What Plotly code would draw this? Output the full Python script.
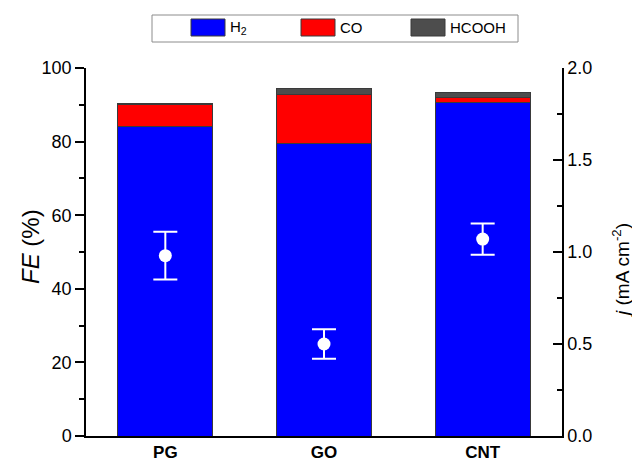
import plotly.graph_objects as go

categories = ["PG", "GO", "CNT"]
fe_h2 = [84.0, 79.4, 90.5]
fe_co = [6.0, 13.3, 1.5]
fe_hcooh = [0.3, 1.85, 1.4]
j_vals = [0.98, 0.50, 1.07]
j_err = [0.13, 0.08, 0.085]

series_names = ["H<sub>2</sub>", "CO", "HCOOH"]
series_colors = ["#0000FF", "#FF0000", "#4D4D4D"]

font_family = "Liberation Sans, Arial, sans-serif"
line_col = "#3a3a3a"

# The page body has an 8px default margin, so the figure is drawn 8px in.
OFF = 8
W, H = 640 - OFF, 462 - OFF
ML, MR, MT, MB = 78, 78, 60, 26
PW, PH = W - ML - MR, H - MT - MB


def px_x(p):
    return (p - OFF - ML) / PW


def px_y(p):
    return (H - MB - (p - OFF)) / PH


fig = go.Figure()
for vals, name, col in zip([fe_h2, fe_co, fe_hcooh], series_names, series_colors):
    fig.add_trace(go.Bar(x=categories, y=vals, name=name, width=0.6, showlegend=False,
                         marker=dict(color=col, line=dict(color=line_col, width=1))))
fig.add_trace(go.Scatter(x=categories, y=j_vals, yaxis="y2", mode="markers", showlegend=False,
                         marker=dict(color="white", size=13),
                         error_y=dict(type="data", array=j_err, color="white", thickness=2, width=12)))

# legend drawn as a box with swatches
shapes = [dict(type="rect", xref="paper", yref="paper",
               x0=px_x(152), x1=px_x(518), y0=px_y(42), y1=px_y(15),
               line=dict(color="#8c8c8c", width=1), fillcolor="white")]
annotations = []
sw_x = [191, 301, 411]
for sx, name, col in zip(sw_x, series_names, series_colors):
    shapes.append(dict(type="rect", xref="paper", yref="paper",
                       x0=px_x(sx), x1=px_x(sx + 34), y0=px_y(36), y1=px_y(19),
                       line=dict(color=line_col, width=1), fillcolor=col))
    annotations.append(dict(xref="paper", yref="paper", x=px_x(sx + 37), y=px_y(28),
                            text=name, showarrow=False, xanchor="left", yanchor="middle",
                            font=dict(size=15, family=font_family, color="black")))

# axis titles
annotations.append(dict(xref="paper", yref="paper", x=px_x(30), y=px_y(247),
                        text="<i>FE</i> (%)", showarrow=False, textangle=-90,
                        xanchor="center", yanchor="middle",
                        font=dict(size=24, family=font_family, color="black")))
annotations.append(dict(xref="paper", yref="paper", x=px_x(621), y=px_y(271),
                        text="<i>j</i> (mA cm<sup>-2</sup>)", showarrow=False, textangle=-90,
                        xanchor="center", yanchor="middle",
                        font=dict(size=19, family=font_family, color="black")))

fig.update_layout(
    width=W, height=H,
    margin=dict(l=ML, r=MR, t=MT, b=MB, autoexpand=False),
    barmode="stack",
    plot_bgcolor="white", paper_bgcolor="white",
    font=dict(family=font_family, color="black", size=18),
    showlegend=False,
    shapes=shapes,
    annotations=annotations,
    xaxis=dict(range=[-0.5, 2.5], showline=True, linecolor="black", linewidth=1.5,
               ticks="", tickfont=dict(size=17), automargin=False,
               tickprefix="<b>", ticksuffix="</b>"),
    yaxis=dict(range=[0, 100], dtick=20, showline=True, linecolor="black", linewidth=1.5,
               ticks="outside", ticklen=9, tickwidth=1.5, tickcolor="black",
               minor=dict(dtick=10, ticks="outside", ticklen=5, tickwidth=1.5, tickcolor="black"),
               showgrid=False, zeroline=False, automargin=False,
               tickfont=dict(size=18)),
    yaxis2=dict(range=[0, 2.0], dtick=0.5, tickformat=".1f", overlaying="y", side="right",
                showline=True, linecolor="black", linewidth=1.5,
                ticks="inside", ticklen=9, tickwidth=1.5, tickcolor="black",
                minor=dict(dtick=0.25, ticks="inside", ticklen=5, tickwidth=1.5, tickcolor="black"),
                showgrid=False, zeroline=False, automargin=False,
                tickfont=dict(size=18)),
)

fig.write_html("out.html")
